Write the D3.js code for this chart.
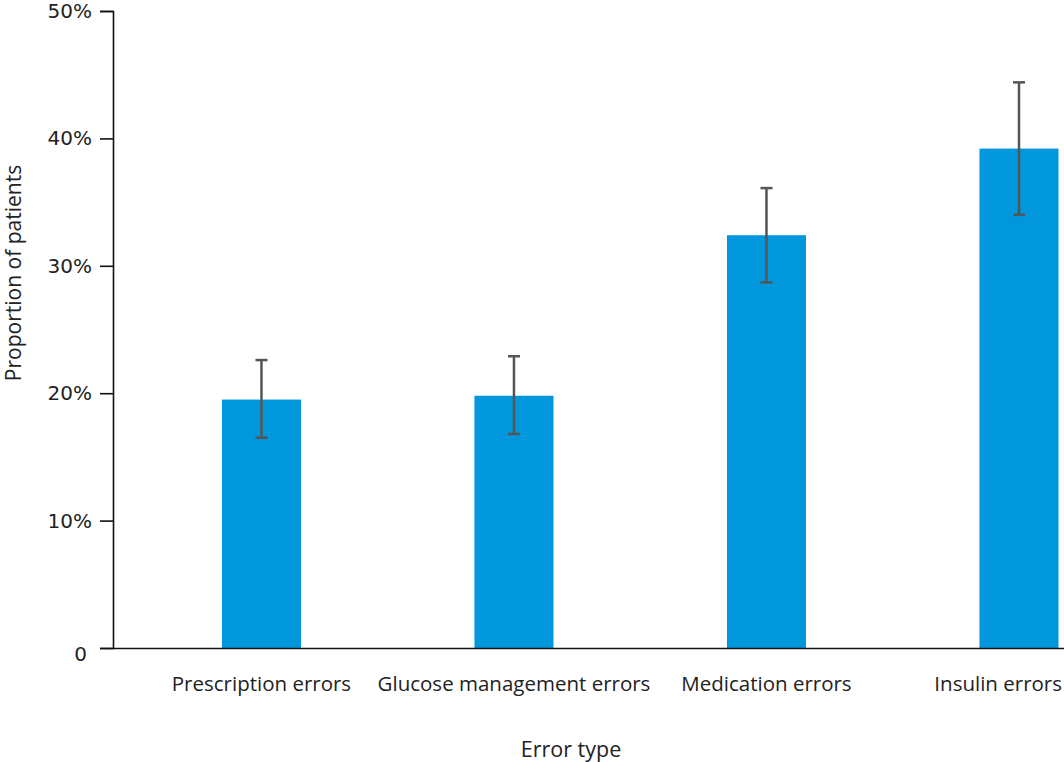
<!DOCTYPE html>
<html>
<head>
<meta charset="utf-8">
<script src="https://cdn.jsdelivr.net/npm/d3@7"></script>
<style>
  body { margin: 0; background: #fff; }
  svg text { font-family: "Open Sans", Lato, sans-serif; fill: #222; }
</style>
</head>
<body>
<div class="chart"></div>
<script>
// data
const categories = ["Prescription errors", "Glucose management errors", "Medication errors", "Insulin errors"];
const values = [19.5, 19.8, 32.4, 39.2];
const errLow = [16.5, 16.8, 28.7, 34.0];
const errHigh = [22.6, 22.9, 36.1, 44.4];
const yTicks = [0, 10, 20, 30, 40, 50];

const svgWidth = 1064, svgHeight = 762;
const margin = { top: 11, right: 0, bottom: 114, left: 113 };
const height = svgHeight - margin.top - margin.bottom;

const svg = d3.select(".chart")
  .append("svg")
  .attr("width", svgWidth)
  .attr("height", svgHeight);

// x: band scale, bars pushed toward the right of the plot
const x = d3.scaleBand()
  .domain(categories)
  .range([margin.left, svgWidth])
  .paddingInner(0.687)
  .paddingOuter(0.2266)
  .align(0.952);

const y = d3.scaleLinear()
  .domain([0, 50])
  .range([margin.top + height, margin.top]);

const rows = categories.map((c, i) => ({ cat: c, v: values[i], lo: errLow[i], hi: errHigh[i] }));
const cx = d => x(d.cat) + x.bandwidth() / 2;

// bars
svg.append("g").selectAll("rect")
  .data(rows)
  .enter().append("rect")
  .attr("x", d => x(d.cat))
  .attr("y", d => y(d.v))
  .attr("width", x.bandwidth())
  .attr("height", d => y(0) - y(d.v))
  .attr("fill", "#0097dd");

// error bars
const cap = 6;
const eb = svg.append("g")
  .attr("stroke", "#555")
  .attr("stroke-width", 2.5);

eb.selectAll(".stem")
  .data(rows)
  .enter().append("line")
  .attr("class", "stem")
  .attr("x1", cx)
  .attr("x2", cx)
  .attr("y1", d => y(d.lo))
  .attr("y2", d => y(d.hi));

["lo", "hi"].forEach(k => {
  eb.selectAll(".cap-" + k)
    .data(rows)
    .enter().append("line")
    .attr("class", "cap-" + k)
    .attr("x1", d => cx(d) - cap)
    .attr("x2", d => cx(d) + cap)
    .attr("y1", d => y(d[k]))
    .attr("y2", d => y(d[k]));
});

// y axis
const yAxis = d3.axisLeft(y)
  .tickValues(yTicks)
  .tickSize(13)
  .tickPadding(8)
  .tickFormat(d => d === 0 ? "0" : d + "%");

const yG = svg.append("g")
  .attr("transform", `translate(${margin.left}, 0)`)
  .call(yAxis);
yG.select(".domain").attr("stroke", "#111").attr("stroke-width", 1.6);
yG.selectAll(".tick line").attr("stroke", "#111").attr("stroke-width", 1.6);
yG.selectAll(".tick text")
  .attr("font-size", 20)
  .style("font-family", "'DejaVu Sans', sans-serif")
  .attr("fill", "#222");
// zero label sits a bit below and left
yG.selectAll(".tick text").filter(d => d === 0)
  .attr("dy", "0.6em")
  .attr("dx", -5);

// x axis: baseline and labels, no ticks
const xAxis = d3.axisBottom(x).tickSize(0).tickPadding(28);
const xG = svg.append("g")
  .attr("transform", `translate(0, ${y(0)})`)
  .call(xAxis);
xG.select(".domain").attr("stroke", "#111").attr("stroke-width", 1.6);
xG.selectAll(".tick text")
  .attr("font-size", 20.5)
  .style("font-family", "'Open Sans', sans-serif")
  .attr("fill", "#222");

// keep labels inside the picture
xG.selectAll(".tick").each(function(d) {
  const t = d3.select(this).select("text");
  const half = t.node().getComputedTextLength() / 2;
  const over = cx({ cat: d }) + half - (svgWidth - 2);
  if (over > 0) t.attr("dx", -over);
});

// axis titles
svg.append("text")
  .attr("transform", "rotate(-90)")
  .attr("x", -273)
  .attr("y", 21)
  .attr("text-anchor", "middle")
  .attr("font-size", 21)
  .text("Proportion of patients");

svg.append("text")
  .attr("x", 571)
  .attr("y", 757)
  .attr("text-anchor", "middle")
  .attr("font-size", 21.5)
  .text("Error type");
</script>
</body>
</html>
